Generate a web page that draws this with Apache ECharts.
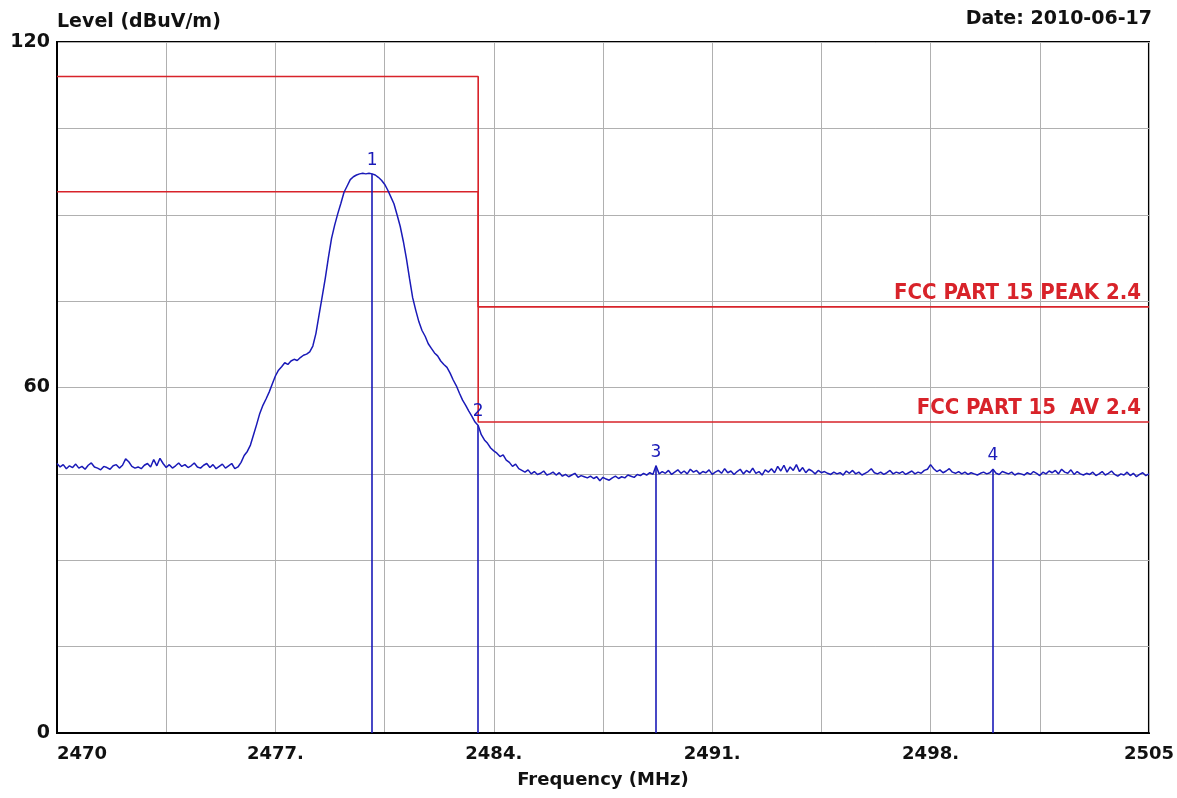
<!DOCTYPE html>
<html>
<head>
<meta charset="utf-8">
<script src="https://cdn.jsdelivr.net/npm/echarts@6/dist/echarts.min.js"></script>
<style>
  html, body { margin: 0; padding: 0; background: #fff; }
  #chart { width: 1177px; height: 798px; }
</style>
</head>
<body>
<div id="chart"></div>
<script>
// Sweep settings (MHz)
const FREQ_START = 2470;
const FREQ_STOP = 2505;
const FREQ_STEP = 0.1;

// Measured level (dBuV/m), one value per sweep step from 2470.0 to 2505.0 MHz
const levels = [
  46.8, 46.2, 46.6, 45.9, 46.4, 46.1, 46.7, 46.0, 46.3, 45.8,
  46.5, 46.9, 46.2, 46.0, 45.7, 46.3, 46.1, 45.8, 46.4, 46.6,
  46.0, 46.5, 47.6, 47.1, 46.3, 46.0, 46.2, 45.9, 46.5, 46.8,
  46.2, 47.5, 46.4, 47.7, 46.8, 46.1, 46.6, 46.0, 46.4, 46.9,
  46.3, 46.6, 46.1, 46.4, 46.9, 46.2, 46.0, 46.5, 46.8, 46.1,
  46.6, 45.9, 46.3, 46.7, 46.0, 46.4, 46.8, 45.9, 46.2, 47.0,
  48.2, 48.9, 50.0, 51.8, 53.6, 55.5, 56.9, 58.0, 59.2, 60.6,
  62.0, 63.0, 63.6, 64.3, 64.0, 64.6, 64.9, 64.7, 65.2, 65.6,
  65.8, 66.2, 67.2, 69.4, 72.6, 75.8, 79.0, 82.6, 85.9, 88.2,
  90.2, 92.0, 93.9, 95.0, 96.1, 96.6, 96.9, 97.1, 97.2, 97.1,
  97.2, 97.1, 96.9, 96.5, 96.0, 95.3, 94.3, 93.1, 91.9, 90.0,
  88.0, 85.4, 82.4, 78.9, 75.6, 73.4, 71.4, 69.9, 68.9, 67.6,
  66.8, 66.0, 65.5, 64.6, 64.0, 63.5, 62.5, 61.3, 60.3, 59.0,
  57.8, 56.9, 55.9, 55.0, 54.0, 53.4, 51.8, 50.9, 50.3, 49.5,
  49.0, 48.6, 48.0, 48.3, 47.4, 47.0, 46.3, 46.7, 45.9, 45.6,
  45.3, 45.7, 45.0, 45.4, 44.9, 45.1, 45.5, 44.8, 45.0, 45.3,
  44.8, 45.2, 44.6, 44.9, 44.5, 44.8, 45.1, 44.4, 44.7, 44.5,
  44.3, 44.6, 44.2, 44.5, 43.8, 44.4, 44.1, 43.9, 44.3, 44.6,
  44.2, 44.5, 44.3, 44.8, 44.6, 44.4, 44.9, 44.7, 45.1, 44.8,
  45.2, 44.9, 46.4, 45.0, 45.4, 45.1, 45.6, 44.9, 45.3, 45.7,
  45.1, 45.5, 45.0, 45.8, 45.3, 45.6, 45.0, 45.4, 45.2, 45.7,
  44.9, 45.3, 45.6, 45.1, 45.9, 45.2, 45.5, 44.9, 45.4, 45.8,
  45.0, 45.6, 45.2, 46.0, 45.1, 45.4, 44.8, 45.7, 45.3, 45.9,
  45.2, 46.3, 45.5, 46.5, 45.3, 46.2, 45.6, 46.6, 45.4, 46.1,
  45.2, 45.8, 45.5, 45.0, 45.6, 45.2, 45.4, 45.1, 44.9, 45.3,
  45.0, 45.2, 44.8, 45.5, 45.1, 45.6, 45.0, 45.3, 44.8, 45.1,
  45.4, 45.9, 45.2, 45.0, 45.3, 44.9, 45.2, 45.6, 45.0, 45.3,
  45.1, 45.4, 44.9, 45.2, 45.5, 45.0, 45.3, 45.1, 45.6, 45.8,
  46.6, 45.9, 45.4, 45.7, 45.2, 45.5, 45.9, 45.3, 45.1, 45.4,
  45.0, 45.3, 44.9, 45.2, 45.0, 44.8, 45.1, 45.3, 45.0, 45.2,
  45.8, 45.1, 44.9, 45.4, 45.2, 45.0, 45.3, 44.8, 45.1, 45.0,
  44.8, 45.2, 44.9, 45.4, 45.1, 44.7, 45.3, 45.0, 45.5, 45.2,
  45.6, 45.0, 45.8, 45.3, 45.1, 45.7, 44.9, 45.4, 45.0, 44.8,
  45.1, 44.9, 45.3, 44.7, 45.0, 45.4, 44.8, 45.1, 45.5, 44.9,
  44.6, 45.0, 44.8, 45.3, 44.7, 45.1, 44.5, 44.9, 45.2, 44.7,
  45.0
];

// Limit lines: [frequency MHz, level dBuV/m]
const peakLimit = [[2470, 114], [2483.5, 114], [2483.5, 74], [2505, 74]];
const avgLimit = [[2470, 94], [2483.5, 94], [2483.5, 54], [2505, 54]];
const limitNames = ['FCC PART 15 PEAK 2.4', 'FCC PART 15  AV 2.4'];

// Markers placed on the trace
const markerFreqs = [2480.1, 2483.5, 2489.2, 2500.0];
const markerNames = ['1', '2', '3', '4'];

// Axis tick labels (frequency in MHz, level in dBuV/m)
const xTickLabels = { 2470: '2470', 2477: '2477.', 2484: '2484.', 2491: '2491.', 2498: '2498.', 2505: '2505' };
const yTickLabels = { 0: '0', 60: '60', 120: '120' };

const TRACE_BLUE = '#1a1ab8';
const LIMIT_RED = '#d8232a';
const LABEL_FONT = '"DejaVu Sans", "Liberation Sans", Arial, sans-serif';
const LIMIT_FONT = '"Liberation Sans Narrow", "Arial Narrow", "DejaVu Sans Condensed", sans-serif';

// The frequency axis runs as an offset from the sweep start so that the 3.5 MHz grid starts at 2470
const toAxis = f => +(f - FREQ_START).toFixed(4);
const levelAt = f => levels[Math.round((f - FREQ_START) / FREQ_STEP)];

const traceData = levels.map((v, i) => [toAxis(FREQ_START + i * FREQ_STEP), v]);

function limitSeries(points, name) {
  const data = points.map(p => [toAxis(p[0]), p[1]]);
  const last = data[data.length - 1];
  return {
    type: 'line',
    name: name,
    data: data,
    symbol: 'none',
    showSymbol: false,
    lineStyle: { color: LIMIT_RED, width: 1.6 },
    silent: true,
    z: 3,
    // the limit name sits above the right end of its line
    markPoint: {
      silent: true,
      animation: false,
      symbol: 'circle',
      symbolSize: 2,
      itemStyle: { color: 'rgba(0,0,0,0)' },
      label: {
        show: true,
        position: 'top',
        align: 'right',
        distance: 2,
        offset: [-8, 0],
        color: LIMIT_RED,
        fontFamily: LIMIT_FONT,
        fontWeight: 'bold',
        fontSize: 22,
        formatter: name
      },
      data: [{ coord: last, value: name }]
    }
  };
}

const chart = echarts.init(document.getElementById('chart'), null, { renderer: 'canvas' });

chart.setOption({
  animation: false,
  backgroundColor: '#fff',
  title: {
    text: 'Date: 2010-06-17',
    right: 25,
    top: 10,
    padding: 0,
    textStyle: { fontFamily: LABEL_FONT, fontWeight: 'bold', fontSize: 19, color: '#111' }
  },
  grid: {
    left: 57, right: 26, top: 42, bottom: 65,
    show: true, borderColor: '#000', borderWidth: 2, backgroundColor: '#fff'
  },
  xAxis: {
    type: 'value',
    min: 0,
    max: toAxis(FREQ_STOP),
    interval: 3.5,
    name: 'Frequency (MHz)',
    nameLocation: 'middle',
    nameGap: 38,
    nameTextStyle: { fontFamily: LABEL_FONT, fontWeight: 'bold', fontSize: 18, color: '#111' },
    axisLine: { show: true, lineStyle: { color: '#000', width: 2 } },
    axisTick: { show: false },
    splitLine: { show: true, lineStyle: { color: '#b0b0b0', width: 1 } },
    axisLabel: {
      margin: 12,
      fontFamily: LABEL_FONT, fontWeight: 'bold', fontSize: 18, color: '#111',
      alignMinLabel: 'left',
      formatter: v => {
        const f = Math.round((FREQ_START + v) * 100) / 100;
        return xTickLabels[f] !== undefined ? xTickLabels[f] : '';
      }
    }
  },
  yAxis: {
    type: 'value',
    min: 0,
    max: 120,
    interval: 15,
    name: 'Level (dBuV/m)',
    nameLocation: 'end',
    nameGap: 10,
    nameTextStyle: { fontFamily: LABEL_FONT, fontWeight: 'bold', fontSize: 19, color: '#111', align: 'left' },
    axisLine: { show: true, lineStyle: { color: '#000', width: 2 } },
    axisTick: { show: false },
    splitLine: { show: true, lineStyle: { color: '#b0b0b0', width: 1 } },
    axisLabel: {
      margin: 7,
      fontFamily: LABEL_FONT, fontWeight: 'bold', fontSize: 19, color: '#111',
      formatter: v => (yTickLabels[v] !== undefined ? yTickLabels[v] : '')
    }
  },
  series: [
    limitSeries(peakLimit, limitNames[0]),
    limitSeries(avgLimit, limitNames[1]),
    {
      type: 'line',
      name: 'Level',
      data: traceData,
      symbol: 'none',
      showSymbol: false,
      lineStyle: { color: TRACE_BLUE, width: 1.5 },
      silent: true,
      z: 4,
      markLine: {
        silent: true,
        symbol: ['none', 'none'],
        animation: false,
        lineStyle: { color: TRACE_BLUE, width: 1.6, type: 'solid' },
        label: {
          show: true,
          position: 'end',
          distance: 5,
          color: TRACE_BLUE,
          fontFamily: LABEL_FONT,
          fontSize: 17,
          formatter: p => p.name
        },
        data: markerFreqs.map((f, i) => [
          { name: markerNames[i], coord: [toAxis(f), 0] },
          { coord: [toAxis(f), levelAt(f)] }
        ])
      }
    }
  ]
});
</script>
</body>
</html>
